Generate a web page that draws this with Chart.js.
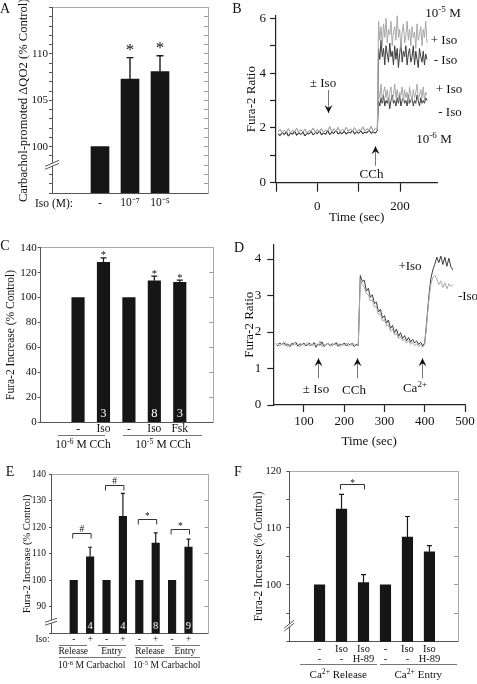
<!DOCTYPE html>
<html><head><meta charset="utf-8">
<script src="https://cdn.jsdelivr.net/npm/chart.js@4/dist/chart.umd.min.js"></script>
<style>
body{margin:0;width:477px;height:684px;position:relative;background:#fff;overflow:hidden;font-family:"Liberation Serif","Times New Roman",serif;color:#111}
.p{position:absolute}
.t{position:absolute;white-space:nowrap;line-height:1;transform:translate(-50%,-50%)}
.u{position:absolute;height:0;border-top:1px solid #777}
sup{font-size:70%;position:relative;top:-0.5em;vertical-align:baseline}
</style></head><body>
<canvas class="p" id="cA" width="240" height="225" style="left:0;top:0"></canvas>
<canvas class="p" id="cB" width="237" height="225" style="left:240px;top:0"></canvas>
<canvas class="p" id="cC" width="240" height="230" style="left:0;top:225px"></canvas>
<canvas class="p" id="cD" width="237" height="230" style="left:240px;top:225px"></canvas>
<canvas class="p" id="cE" width="240" height="229" style="left:0;top:455px"></canvas>
<canvas class="p" id="cF" width="237" height="229" style="left:240px;top:455px"></canvas>
<script>
// ---------------- DATA ----------------
// Panel A
const catsA = ['-', '10⁻⁷', '10⁻⁵'];
const valsA = [100, 107.3, 108.1];
const errA  = [0, 2.3, 1.7];
const starA = [false, true, true];
// Panel B (Fura-2 ratio traces)
const tBase = [-95,-90,-85,-80,-75,-70,-65,-60,-55,-50,-45,-40,-35,-30,-25,-20,-15,-10,-5,0,5,10,15,20,25,30,35,40,45,50,55,60,65,70,75,80,85,90,95,100,105,110,115,120,125,130,135,140,145];
const tPost = [148,151,154,157,160,163,166,169,172,175,178,181,184,187,190,193,196,199,202,205,208,211,214,217,220,223,226,229,232,235,238,241,244,247,250,253,256,259,262,265];
const baseLight = [1.86,1.95,1.80,1.92,1.84,1.97,1.82,1.90,1.87,1.99,1.83,1.93,1.85,1.96,1.81,1.91,1.88,2.00,1.84,1.94,1.86,1.98,1.83,1.92,1.89,2.05,1.85,1.97,1.88,2.02,1.86,1.95,1.90,2.03,1.87,1.96,1.89,2.01,1.85,1.94,1.91,2.04,1.88,1.97,1.90,2.06,1.87,1.98,1.93];
const baseDark  = [1.78,1.72,1.84,1.75,1.86,1.70,1.81,1.77,1.88,1.73,1.82,1.76,1.85,1.71,1.80,1.78,1.87,1.74,1.83,1.79,1.89,1.75,1.81,1.77,1.90,1.76,1.84,1.80,1.92,1.78,1.83,1.79,1.88,1.77,1.86,1.81,1.91,1.78,1.85,1.80,1.89,1.79,1.84,1.82,1.93,1.80,1.86,1.81,1.90];
const hiPlusIso  = [5.9,5.2,5.7,5.0,5.8,5.3,6.0,5.1,5.6,5.4,5.9,5.0,5.5,5.7,5.2,6.1,5.3,5.6,4.9,5.5,5.8,5.1,5.4,5.9,5.2,5.6,5.0,5.7,5.3,5.5,4.9,5.8,5.2,5.4,5.7,5.0,5.6,5.3,5.9,5.1];
const hiMinusIso = [4.9,4.5,5.2,4.6,4.9,4.3,5.0,4.7,4.4,5.1,4.6,4.8,4.3,5.0,4.5,4.9,4.2,4.7,5.1,4.4,4.8,4.6,5.0,4.3,4.7,4.9,4.4,4.6,5.0,4.3,4.8,4.5,4.2,4.9,4.6,4.4,4.8,4.3,4.7,4.5];
const loPlusIso  = [3.4,3.1,3.6,3.0,3.3,3.5,3.1,3.4,2.9,3.3,3.5,3.0,3.2,3.6,3.1,3.4,3.0,3.3,3.2,3.5,3.0,3.4,3.1,3.3,2.9,3.5,3.2,3.0,3.4,3.1,3.3,3.6,3.0,3.2,3.4,3.1,3.5,3.0,3.3,3.2];
const loMinusIso = [3.0,2.8,3.1,2.9,3.2,2.8,3.0,2.9,3.1,2.7,3.0,3.2,2.9,3.0,2.8,3.1,2.9,3.2,2.8,3.0,3.1,2.9,3.0,2.8,3.2,2.9,3.0,3.1,2.8,3.0,2.9,3.2,3.0,2.8,3.1,2.9,3.0,2.9,3.1,3.0];
const arrowsB = [{x:26, from:3.38, to:2.54}, {x:140, from:0.62, to:1.33}];
// Panel C
const catsC = ['-', 'Iso', '-', 'Iso', 'Fsk'];
const valsC = [100, 128.2, 100, 113.5, 112.2];
const errC  = [0, 3.6, 0, 3.7, 1.8];
const starC = [false, true, false, true, true];
const nC    = ['', '3', '', '8', '3'];
// Panel D
const tD = [30,35,40,45,50,55,60,65,70,75,80,85,90,95,100,105,110,115,120,125,130,135,140,145,150,155,160,165,170,175,180,185,190,195,200,205,210,215,220,225,230,235,
            240,245,250,255,260,265,270,275,280,285,290,295,300,305,310,315,320,325,330,335,340,345,350,355,360,365,370,375,380,385,390,395,
            400,405,410,415,420,425,430,435,440,445,450,455,460,465,470];
const dPlusIso = [1.68,1.62,1.70,1.65,1.71,1.63,1.67,1.60,1.69,1.66,1.72,1.61,1.68,1.64,1.70,1.62,1.66,1.69,1.63,1.71,1.58,1.67,1.64,1.73,1.60,1.66,1.69,1.62,1.68,1.65,1.71,1.61,1.67,1.64,1.70,1.62,1.68,1.65,1.69,1.60,1.66,1.63,
            3.55,3.38,3.42,3.12,3.20,2.95,3.02,2.78,2.82,2.55,2.62,2.38,2.45,2.24,2.33,2.10,2.18,1.98,2.08,1.88,1.98,1.82,1.90,1.76,1.85,1.72,1.80,1.70,1.76,1.66,1.72,1.62,
            1.70,2.30,2.95,3.45,3.70,3.85,4.05,3.90,4.08,3.85,4.05,3.80,4.02,3.78,3.70];
const dMinusIso = [1.64,1.69,1.61,1.67,1.63,1.70,1.60,1.66,1.62,1.71,1.64,1.67,1.59,1.68,1.63,1.66,1.72,1.61,1.67,1.64,1.69,1.62,1.75,1.60,1.66,1.63,1.70,1.65,1.61,1.68,1.64,1.69,1.60,1.67,1.63,1.70,1.61,1.66,1.64,1.68,1.62,1.65,
            3.45,3.30,3.22,3.05,3.02,2.85,2.88,2.68,2.70,2.48,2.50,2.30,2.34,2.16,2.20,2.02,2.08,1.92,1.96,1.82,1.88,1.76,1.80,1.70,1.76,1.66,1.72,1.62,1.68,1.60,1.66,1.58,
            1.66,2.25,2.85,3.30,3.50,3.55,3.45,3.30,3.40,3.22,3.35,3.18,3.32,3.25,3.30];
const arrowsD = [{x:136, from:0.73, to:1.28}, {x:233, from:0.73, to:1.28}, {x:393, from:0.73, to:1.28}];
// Panel E
const catsE = ['-', '+', '-', '+', '-', '+', '-', '+'];
const valsE = [100, 108.9, 100, 124.2, 100, 114.1, 100, 112.6];
const errE  = [0, 3.6, 0, 8.6, 0, 3.8, 0, 3.0];
const nE    = ['', '4', '', '4', '', '8', '', '9'];
const brE   = [{a:0, b:1, y:117.9, mark:'#'}, {a:2, b:3, y:136.1, mark:'#'}, {a:4, b:5, y:123.1, mark:'*'}, {a:6, b:7, y:119.4, mark:'*'}];
// Panel F
const catsF = [['-','-'], ['Iso','-'], ['Iso','H-89'], ['-','-'], ['Iso','-'], ['Iso','H-89']];
const valsF = [100, 113.3, 100.4, 100, 108.4, 105.8];
const errF  = [0, 2.6, 1.4, 0, 3.6, 1.1];
const brF   = [{a:1, b:2, y:117.8, mark:'*'}];

// ---------------- HELPERS ----------------
const FONT = '"Liberation Serif", "Times New Roman", serif';

function extras(vals, errs, o) {
  return {
    id: 'extras',
    afterDatasetsDraw(chart) {
      const ctx = chart.ctx, x = chart.scales.x, y = chart.scales.y;
      ctx.save();
      if (o.brk != null) {
        const by = y.getPixelForValue(o.brk), bx = chart.chartArea.left;
        const w = o.brkW || 7, h = o.brkH || 4, g = o.brkG || 3;
        ctx.fillStyle = '#fff';
        ctx.beginPath();
        ctx.moveTo(bx - w, by + h); ctx.lineTo(bx + w, by - h);
        ctx.lineTo(bx + w, by - h + g); ctx.lineTo(bx - w, by + h + g); ctx.closePath(); ctx.fill();
        ctx.strokeStyle = '#555'; ctx.lineWidth = 1;
        ctx.beginPath();
        ctx.moveTo(bx - w, by + h); ctx.lineTo(bx + w, by - h);
        ctx.moveTo(bx - w, by + h + g); ctx.lineTo(bx + w, by - h + g);
        ctx.stroke();
      }
      ctx.strokeStyle = '#1a1a1a'; ctx.lineWidth = o.ew || 1.3;
      errs.forEach((e, i) => {
        if (!e) return;
        const px = x.getPixelForValue(i);
        const top = y.getPixelForValue(vals[i] + e), base = y.getPixelForValue(vals[i]);
        ctx.beginPath();
        ctx.moveTo(px, base); ctx.lineTo(px, top);
        ctx.moveTo(px - o.cap / 2, top); ctx.lineTo(px + o.cap / 2, top);
        ctx.stroke();
      });
      ctx.fillStyle = '#111'; ctx.textAlign = 'center'; ctx.textBaseline = 'alphabetic';
      if (o.stars) {
        ctx.font = o.starSize + 'px ' + FONT;
        o.stars.forEach((s, i) => {
          if (!s) return;
          ctx.fillText('*', x.getPixelForValue(i), y.getPixelForValue(vals[i] + errs[i]) - o.starGap + o.starSize * 0.53);
        });
      }
      if (o.n) {
        ctx.fillStyle = '#fff'; ctx.font = o.nSize + 'px ' + FONT; ctx.textBaseline = 'middle';
        o.n.forEach((t, i) => { if (t) ctx.fillText(t, x.getPixelForValue(i), chart.chartArea.bottom - o.nOff); });
      }
      if (o.br) {
        ctx.strokeStyle = '#333'; ctx.lineWidth = 1; ctx.fillStyle = '#111';
        ctx.font = o.brSize + 'px ' + FONT; ctx.textBaseline = 'alphabetic';
        o.br.forEach(b => {
          const xa = x.getPixelForValue(b.a) - 1, xb = x.getPixelForValue(b.b) + 1, py = Math.round(y.getPixelForValue(b.y)) + 0.5;
          ctx.beginPath();
          ctx.moveTo(xa, py + o.drop); ctx.lineTo(xa, py); ctx.lineTo(xb, py); ctx.lineTo(xb, py + o.drop);
          ctx.stroke();
          const sy = b.mark === '*' ? py - o.starBrGap + o.brSize * 0.53 : py - o.brGap;
          ctx.fillText(b.mark, (xa + xb) / 2, sy);
        });
      }
      ctx.restore();
    }
  };
}

function mkBar(id, cats, vals, errs, o) {
  return new Chart(document.getElementById(id), {
    type: 'bar',
    data: { datasets: [{ data: vals.map((v, i) => ({ x: i, y: v })), backgroundColor: '#161616', borderWidth: 0, barThickness: o.bw }] },
    options: {
      responsive: false, animation: false, devicePixelRatio: 1,
      layout: { padding: { left: 0, right: o.right, top: o.top, bottom: 0 } },
      plugins: { legend: { display: false }, tooltip: { enabled: false } },
      scales: {
        x: {
          type: 'linear', position: 'bottom', min: o.xmin, max: o.xmax,
          afterBuildTicks: s => { s.ticks = cats.map((c, i) => ({ value: i })); },
          afterFit: s => { s.height = o.xh; },
          ticks: { autoSkip: false, maxRotation: 0, minRotation: 0, padding: o.xpad, color: '#111',
                   font: { family: FONT, size: o.xfs, lineHeight: o.xlh || 1.2 }, callback: (v, i) => cats[i] },
          grid: { display: false, drawTicks: false },
          border: { color: '#555', width: 1 }
        },
        x2: {
          type: 'linear', position: 'top', min: o.xmin, max: o.xmax,
          afterFit: s => { s.height = 0; },
          ticks: { display: false }, grid: { display: false, drawTicks: false },
          border: { color: '#aaa', width: 1 }
        },
        y: {
          min: o.ymin, max: o.ymax,
          afterFit: s => { s.width = o.yw; },
          ticks: { autoSkip: false, stepSize: o.ystep, padding: o.ypad, color: '#111', font: { family: FONT, size: o.yfs },
                   callback: v => o.ylab.includes(v) ? String(v) : '' },
          grid: { drawOnChartArea: false, tickLength: o.ytl, color: '#555' },
          border: { color: '#555', width: 1 },
          title: { display: true, text: o.ytitle, color: '#111', font: { family: FONT, size: o.ytfs }, padding: { top: o.ytpad, bottom: 0 } }
        },
        y2: {
          position: 'right', min: o.ymin, max: o.ymax,
          afterFit: s => { s.width = 0; },
          ticks: { display: false, autoSkip: false, stepSize: o.ystep },
          grid: { drawOnChartArea: false, tickLength: -4, color: '#999' },
          border: { color: '#aaa', width: 1 }
        }
      }
    },
    plugins: [extras(vals, errs, o)]
  });
}

function arrowPlugin(arrows) {
  return {
    id: 'arrows',
    afterDatasetsDraw(chart) {
      const ctx = chart.ctx, x = chart.scales.x, y = chart.scales.y;
      ctx.save();
      arrows.forEach(a => {
        const px = Math.round(x.getPixelForValue(a.x)) + 0.5, y1 = y.getPixelForValue(a.from), y2 = y.getPixelForValue(a.to);
        const dir = y2 > y1 ? 1 : -1;
        ctx.strokeStyle = '#777'; ctx.lineWidth = 1;
        ctx.beginPath(); ctx.moveTo(px, y1); ctx.lineTo(px, y2); ctx.stroke();
        ctx.fillStyle = '#111';
        ctx.beginPath();
        ctx.moveTo(px, y2);
        ctx.lineTo(px - 4, y2 - dir * 8);
        ctx.lineTo(px, y2 - dir * 5);
        ctx.lineTo(px + 4, y2 - dir * 8);
        ctx.closePath(); ctx.fill();
      });
      ctx.restore();
    }
  };
}

const pts = (ts, vs) => ts.map((t, i) => ({ x: t, y: vs[i] }));

function mkLine(id, datasets, o, arrows) {
  return new Chart(document.getElementById(id), {
    type: 'line',
    data: { datasets: datasets.map(d => ({ data: d.data, borderColor: d.color, borderWidth: 1, pointRadius: 0, tension: 0, fill: false })) },
    options: {
      responsive: false, animation: false, devicePixelRatio: 1,
      layout: { padding: { left: 0, right: o.right, top: o.top, bottom: 0 } },
      plugins: { legend: { display: false }, tooltip: { enabled: false } },
      scales: {
        x: {
          type: 'linear', min: o.xmin, max: o.xmax,
          afterBuildTicks: s => { s.ticks = o.xticks.map(v => ({ value: v })); },
          afterFit: s => { s.height = o.xh; },
          ticks: { autoSkip: false, padding: o.xpad, maxRotation: 0, minRotation: 0,
                   color: c => o.xlab.includes(c.tick.value) ? '#111' : 'rgba(0,0,0,0)',
                   font: { family: FONT, size: o.fs }, callback: v => String(v) },
          grid: { drawOnChartArea: false, tickLength: o.xtl, color: '#222', tickWidth: 1.2 },
          border: { color: '#222', width: 1.2 },
          title: { display: true, text: 'Time (sec)', color: '#111', font: { family: FONT, size: o.fs }, padding: { top: 0, bottom: o.xtpad } }
        },
        y: {
          min: o.ymin, max: o.ymax,
          afterFit: s => { s.width = o.yw; },
          ticks: { autoSkip: false, stepSize: 1, includeBounds: false, padding: o.ypad, color: '#111', font: { family: FONT, size: o.fs },
                   callback: v => o.ylab.includes(v) ? String(v) : '' },
          grid: { drawOnChartArea: false, tickLength: o.ytl, color: '#222', tickWidth: 1.2 },
          border: { color: '#222', width: 1.2 },
          title: { display: true, text: 'Fura-2 Ratio', color: '#111', font: { family: FONT, size: o.fs }, padding: { top: o.ytpad, bottom: 0 } }
        }
      }
    },
    plugins: [arrowPlugin(arrows)]
  });
}

// ---------------- CHARTS ----------------
mkBar('cA', catsA, valsA, errA, {
  top: 6, right: 32, xh: 32, yw: 52, xmin: -0.733, xmax: 2.733,
  ymin: 95, ymax: 115, ystep: 1, ylab: [100, 105, 110], yfs: 11, ypad: 1, ytl: 3,
  ytitle: 'Carbachol-promoted ΔQO2 (% Control)', ytfs: 12.6, ytpad: 16.5,
  xfs: 11.5, xpad: 3, bw: 18, cap: 7, ew: 1.4,
  stars: starA, starSize: 17, starGap: 11.5, brk: 98.2, brkW: 7, brkH: 3, brkG: 3
});

mkLine('cB', [
  { data: pts(tBase.concat(tPost), baseLight.concat(hiPlusIso)), color: '#a8a8a8' },
  { data: pts(tBase.concat(tPost), baseLight.concat(loPlusIso)), color: '#a8a8a8' },
  { data: pts(tBase.concat(tPost), baseDark.concat(hiMinusIso)), color: '#3c3c3c' },
  { data: pts(tBase.concat(tPost), baseDark.concat(loMinusIso)), color: '#3c3c3c' }
], {
  top: 15.6, right: 39.7, xh: 42.3, yw: 36, xmin: -100, xmax: 290, ymin: 0, ymax: 6.1,
  xticks: [-100, 0, 100, 200], xlab: [0, 200], ylab: [0, 2, 4, 6], fs: 13, xpad: 7, xtl: 9, xtpad: 0, ypad: 4, ytl: 6, ytpad: 4
}, arrowsB);

mkBar('cC', catsC, valsC, errC, {
  top: 22.7, right: 26.7, xh: 32.7, yw: 40.7, xmin: -0.79, xmax: 4.64,
  ymin: 0, ymax: 140, ystep: 20, ylab: [0, 20, 40, 60, 80, 100, 120, 140], yfs: 11, ypad: 1, ytl: 3,
  ytitle: 'Fura-2 Increase (% Control)', ytfs: 11.5, ytpad: 4,
  xfs: 11.5, xpad: 0, bw: 12.5, cap: 6, ew: 1.3,
  stars: starC, starSize: 10.5, starGap: 5, n: nC, nSize: 12.5, nOff: 9
});

mkLine('cD', [
  { data: pts(tD, dMinusIso), color: '#a8a8a8' },
  { data: pts(tD, dPlusIso), color: '#3c3c3c' }
], {
  top: 19.4, right: 12, xh: 50, yw: 33.3, xmin: 24, xmax: 500, ymin: 0, ymax: 4.4,
  xticks: [100, 200, 300, 400, 500], xlab: [100, 200, 300, 400, 500], ylab: [0, 1, 2, 3, 4], fs: 13, xpad: 2, xtl: 7, xtpad: 6, ypad: 6, ytl: 6, ytpad: 2
}, arrowsD);

mkBar('cE', catsE, valsE, errE, {
  top: 19.3, right: 31.5, xh: 50.5, yw: 51, xmin: -0.785, xmax: 7.62,
  ymin: 80, ymax: 140, ystep: 10, ylab: [90, 100, 110, 120, 130, 140], yfs: 9.5, ypad: 3, ytl: 2,
  ytitle: 'Fura-2 Increase (% Control)', ytfs: 10.5, ytpad: 21,
  xfs: 9.5, xpad: 0, bw: 7.5, cap: 4, ew: 1.2,
  n: nE, nSize: 10.5, nOff: 7, br: brE, brSize: 9.5, brGap: 2, starBrGap: 6, drop: 5,
  brk: 85, brkW: 6, brkH: 2, brkG: 3
});

mkBar('cF', catsF, valsF, errF, {
  top: 16, right: 19, xh: 42.3, yw: 49.3, xmin: -0.736, xmax: 5.66,
  ymin: 90, ymax: 120, ystep: 5, ylab: [100, 110, 120], yfs: 10.5, ypad: 5, ytl: 3,
  ytitle: 'Fura-2 Increase (% Control)', ytfs: 11.5, ytpad: 12.5,
  xfs: 10.5, xlh: 0.9, xpad: 3, bw: 10.5, cap: 5, ew: 1.2,
  br: brF, brSize: 9.5, brGap: 0, starBrGap: 4, drop: 5,
  brk: 93.1, brkW: 5, brkH: 4, brkG: 3
});

// ---------------- STATIC TEXT ----------------
const texts = [
  [5, 9, 14, 'A'], [237, 9, 14, 'B'], [5, 246, 14, 'C'], [239, 248, 14, 'D'], [10, 472, 14, 'E'], [238, 472, 14, 'F'],
  [54, 204, 11.5, 'Iso (M):'],
  [443, 12.5, 13, '10<sup>-5</sup> M'], [444, 39, 13, '+ Iso'], [445.5, 59, 13, '- Iso'],
  [449, 87.5, 13, '+ Iso'], [450, 111, 13, '- Iso'], [434, 139, 13, '10<sup>-6</sup> M'],
  [323, 82, 13, '± Iso'], [371.5, 173, 13, 'CCh'],
  [83, 445, 11.5, '10<sup>-6</sup> M CCh'], [163, 445, 11.5, '10<sup>-5</sup> M CCh'],
  [410, 265, 13, '+Iso'], [468, 295, 13, '-Iso'], [316, 388, 13, '± Iso'], [354, 389, 13, 'CCh'], [415, 388, 13, 'Ca<sup>2+</sup>'],
  [42.5, 640, 9.5, 'Iso:'],
  [73.3, 651.5, 9.5, 'Release'], [111.7, 651.5, 9.5, 'Entry'], [150, 651.5, 9.5, 'Release'], [185, 651.5, 9.5, 'Entry'],
  [91.7, 666, 9.5, '10<sup>-6</sup> M Carbachol'], [166.7, 666, 9.5, '10<sup>-5</sup> M Carbachol'],
  [338.3, 674, 11, 'Ca<sup>2+</sup> Release'], [418.3, 674, 11, 'Ca<sup>2+</sup> Entry']
];
texts.forEach(([x, y, s, h]) => {
  const d = document.createElement('div'); d.className = 't';
  d.style.left = x + 'px'; d.style.top = y + 'px'; d.style.fontSize = s + 'px'; d.innerHTML = h;
  document.body.appendChild(d);
});
const lines = [
  [58, 105, 434.5], [122.7, 201.7, 434.5],
  [59.3, 87.3, 645], [98.3, 126, 645], [135, 163.3, 645], [171.7, 200, 645],
  [59.3, 126, 657], [135, 200, 657],
  [300, 376.7, 664], [380, 456.7, 664]
];
lines.forEach(([x1, x2, y]) => {
  const d = document.createElement('div'); d.className = 'u';
  d.style.left = x1 + 'px'; d.style.top = y + 'px'; d.style.width = (x2 - x1) + 'px';
  document.body.appendChild(d);
});
</script>
</body></html>
